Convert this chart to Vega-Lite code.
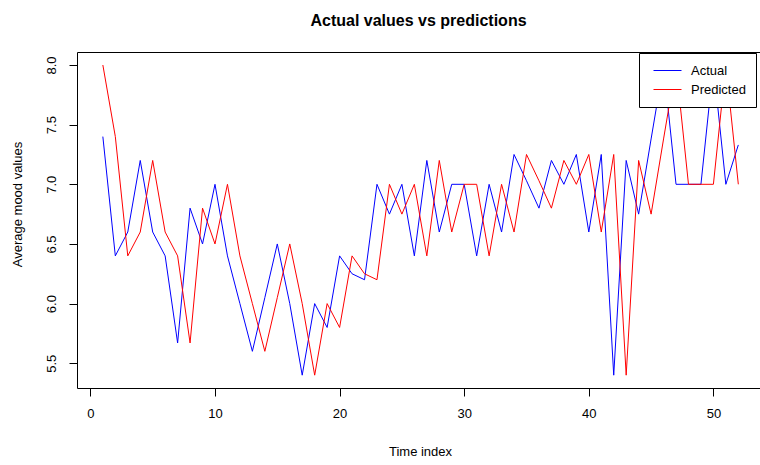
{
  "$schema": "https://vega.github.io/schema/vega-lite/v6.json",
  "autosize": "none",
  "width": 683,
  "height": 336,
  "padding": {"left": 77, "top": 52, "right": 0, "bottom": 77},
  "background": "white",
  "title": {"text": "Actual values vs predictions", "fontSize": 16, "fontWeight": "bold", "font": "Liberation Sans", "anchor": "middle", "baseline": "alphabetic", "offset": 10, "color": "#000"},
  "config": {
    "view": {"stroke": null},
    "font": "Liberation Sans",
    "axis": {"grid": false, "domainColor": "#000", "tickColor": "#000", "tickSize": 8, "labelColor": "#000", "titleColor": "#000", "labelFontSize": 13, "titleFontSize": 13, "titleFontWeight": "normal", "labelFont": "Liberation Sans", "titleFont": "Liberation Sans"}
  },
  "data": {"values": [
    {"t": 1, "Actual": 7.4, "Predicted": 8.0},
    {"t": 2, "Actual": 6.4, "Predicted": 7.4},
    {"t": 3, "Actual": 6.6, "Predicted": 6.4},
    {"t": 4, "Actual": 7.2, "Predicted": 6.6},
    {"t": 5, "Actual": 6.6, "Predicted": 7.2},
    {"t": 6, "Actual": 6.4, "Predicted": 6.6},
    {"t": 7, "Actual": 5.67, "Predicted": 6.4},
    {"t": 8, "Actual": 6.8, "Predicted": 5.67},
    {"t": 9, "Actual": 6.5, "Predicted": 6.8},
    {"t": 10, "Actual": 7.0, "Predicted": 6.5},
    {"t": 11, "Actual": 6.4, "Predicted": 7.0},
    {"t": 12, "Actual": 6.0, "Predicted": 6.4},
    {"t": 13, "Actual": 5.6, "Predicted": 6.0},
    {"t": 14, "Actual": 6.05, "Predicted": 5.6},
    {"t": 15, "Actual": 6.5, "Predicted": 6.05},
    {"t": 16, "Actual": 6.0, "Predicted": 6.5},
    {"t": 17, "Actual": 5.4, "Predicted": 6.0},
    {"t": 18, "Actual": 6.0, "Predicted": 5.4},
    {"t": 19, "Actual": 5.8, "Predicted": 6.0},
    {"t": 20, "Actual": 6.4, "Predicted": 5.8},
    {"t": 21, "Actual": 6.25, "Predicted": 6.4},
    {"t": 22, "Actual": 6.2, "Predicted": 6.25},
    {"t": 23, "Actual": 7.0, "Predicted": 6.2},
    {"t": 24, "Actual": 6.75, "Predicted": 7.0},
    {"t": 25, "Actual": 7.0, "Predicted": 6.75},
    {"t": 26, "Actual": 6.4, "Predicted": 7.0},
    {"t": 27, "Actual": 7.2, "Predicted": 6.4},
    {"t": 28, "Actual": 6.6, "Predicted": 7.2},
    {"t": 29, "Actual": 7.0, "Predicted": 6.6},
    {"t": 30, "Actual": 7.0, "Predicted": 7.0},
    {"t": 31, "Actual": 6.4, "Predicted": 7.0},
    {"t": 32, "Actual": 7.0, "Predicted": 6.4},
    {"t": 33, "Actual": 6.6, "Predicted": 7.0},
    {"t": 34, "Actual": 7.25, "Predicted": 6.6},
    {"t": 35, "Actual": 7.03, "Predicted": 7.25},
    {"t": 36, "Actual": 6.8, "Predicted": 7.03},
    {"t": 37, "Actual": 7.2, "Predicted": 6.8},
    {"t": 38, "Actual": 7.0, "Predicted": 7.2},
    {"t": 39, "Actual": 7.25, "Predicted": 7.0},
    {"t": 40, "Actual": 6.6, "Predicted": 7.25},
    {"t": 41, "Actual": 7.25, "Predicted": 6.6},
    {"t": 42, "Actual": 5.4, "Predicted": 7.25},
    {"t": 43, "Actual": 7.2, "Predicted": 5.4},
    {"t": 44, "Actual": 6.75, "Predicted": 7.2},
    {"t": 45, "Actual": 7.38, "Predicted": 6.75},
    {"t": 46, "Actual": 8.0, "Predicted": 7.38},
    {"t": 47, "Actual": 7.0, "Predicted": 8.0},
    {"t": 48, "Actual": 7.0, "Predicted": 7.0},
    {"t": 49, "Actual": 7.0, "Predicted": 7.0},
    {"t": 50, "Actual": 8.0, "Predicted": 7.0},
    {"t": 51, "Actual": 7.0, "Predicted": 8.0},
    {"t": 52, "Actual": 7.33, "Predicted": 7.0}
  ]},
  "transform": [{"fold": ["Actual", "Predicted"], "as": ["series", "value"]}],
  "resolve": {"axis": {"x": "independent"}},
  "layer": [
    {
      "mark": {"type": "line", "strokeWidth": 1, "strokeJoin": "round"},
      "encoding": {
        "x": {"field": "t", "type": "quantitative", "scale": {"domain": [-1.075, 53.74], "nice": false, "zero": false},
              "axis": {"values": [0, 10, 20, 30, 40, 50], "labelPadding": 11, "title": "Time index", "titleY": 67, "titleBaseline": "alphabetic", "titleX": 343}},
        "y": {"field": "value", "type": "quantitative", "scale": {"domain": [5.2925, 8.109], "nice": false, "zero": false},
              "axis": {"values": [5.5, 6.0, 6.5, 7.0, 7.5, 8.0], "format": ".1f", "labelAngle": 270, "labelAlign": "center", "labelBaseline": "bottom", "labelPadding": 11, "title": "Average mood values", "titleX": -60, "titleY": 152, "titleBaseline": "middle", "titleAngle": 270, "titleAlign": "center"}},
        "color": {"field": "series", "type": "nominal",
                  "scale": {"domain": ["Actual", "Predicted"], "range": ["#0000ff", "#ff0000"]},
                  "legend": {"title": null, "orient": "none", "legendX": 562, "legendY": 1, "symbolType": "M-2,0H2", "symbolSize": 196, "symbolStrokeWidth": 1, "labelFontSize": 13, "labelColor": "#000", "labelOffset": 16, "symbolOffset": 11, "padding": 10, "rowPadding": 4, "fillColor": "white", "strokeColor": "#000", "cornerRadius": 0}}
      }
    },
    {
      "mark": {"type": "line", "opacity": 0},
      "encoding": {
        "x": {"field": "t", "type": "quantitative", "axis": {"orient": "top", "labels": false, "ticks": false, "domain": true, "title": null}},
        "y": {"field": "value", "type": "quantitative"},
        "detail": {"field": "series"}
      }
    }
  ]
}
